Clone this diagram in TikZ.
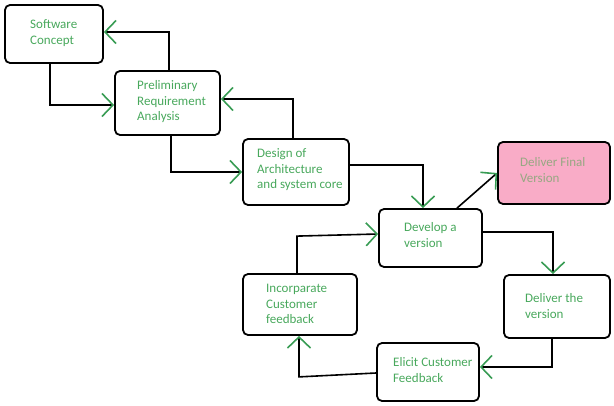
\documentclass[tikz,border=0pt]{standalone}
\usepackage{fontspec}
\setmainfont{Carlito}
\usetikzlibrary{arrows.meta}
\definecolor{txtgreen}{RGB}{72,168,92}
\definecolor{arrgreen}{RGB}{56,156,84}
\definecolor{pinkfill}{RGB}{249,172,199}
\definecolor{pinktxt}{RGB}{150,168,130}
\tikzset{
  box/.style={draw=black, line width=1.8pt, rounded corners=5pt, inner sep=0pt},
  lbl/.style={anchor=base west, align=left, inner sep=0pt, text=txtgreen,
    font=\fontsize{13pt}{15.2pt}\selectfont},
  conn/.style={draw=black, line width=1.6pt,
    -{Straight Barb[length=11pt, width=23pt, line width=1.6pt, color=arrgreen]}}
}
\begin{document}
\begin{tikzpicture}[x=1pt, y=-1pt]
\useasboundingbox (0,0) rectangle (614,406);
% boxes
\node[box, minimum width=98pt, minimum height=58pt] (sc) at (54,34) {};
\node[box, minimum width=105pt, minimum height=64pt] (pr) at (167.5,103) {};
\node[box, minimum width=106pt, minimum height=66pt] (ds) at (296,172) {};
\node[box, fill=pinkfill, minimum width=112pt, minimum height=62pt] (fn) at (554,173) {};
\node[box, minimum width=103pt, minimum height=58pt] (dv) at (430.5,238) {};
\node[box, minimum width=114pt, minimum height=61pt] (in) at (300,304.5) {};
\node[box, minimum width=106pt, minimum height=63pt] (dt) at (557,306.5) {};
\node[box, minimum width=102pt, minimum height=58pt] (el) at (428,372) {};
% labels (anchor = baseline of the last line)
\node[lbl] (tsc) at (30,44.2) {Software\\Concept};
\node[lbl] (tpr) at (137,120.4) {Preliminary\\Requirement\\Analysis};
\node[lbl] (tds) at (257,188.4) {Design of\\Architecture\\and system core};
\node[lbl, text=pinktxt] (tfn) at (520,182.2) {Deliver Final\\Version};
\node[lbl] (tdv) at (404,247.2) {Develop a\\version};
\node[lbl] (tin) at (266,323.4) {Incorparate\\Customer\\feedback};
\node[lbl] (tdt) at (525,318.2) {Deliver the\\version};
\node[lbl] (tel) at (393,382.2) {Elicit Customer\\Feedback};
% connectors
\draw[conn] ([xshift=1.5pt]pr.north) |- ([yshift=2pt]sc.east);
\draw[conn] ([xshift=-4pt]sc.south) |- ([yshift=-2pt]pr.west);
\draw[conn] ([xshift=-3pt]ds.north) |- ([yshift=4pt]pr.east);
\draw[conn] ([xshift=3.5pt]pr.south) |- (ds.west);
\draw[conn] ([yshift=7pt]ds.east) -| ([xshift=-7.5pt]dv.north);
\draw[conn] ([xshift=26.5pt]dv.north) -- (fn.west);
\draw[conn] ([yshift=6pt]dv.east) -| ([xshift=-4pt]dt.north);
\draw[conn] ([xshift=-5pt]dt.south) |- ([yshift=5pt]el.east);
\draw[conn] ([yshift=-1pt]el.west) -- ([xshift=-1pt,yshift=-41pt]in.south) -- ([xshift=-1pt]in.south);
\draw[conn] ([xshift=-3pt]in.north) -- ++(0,-37) -- ([yshift=4pt]dv.west);
\end{tikzpicture}
\end{document}
